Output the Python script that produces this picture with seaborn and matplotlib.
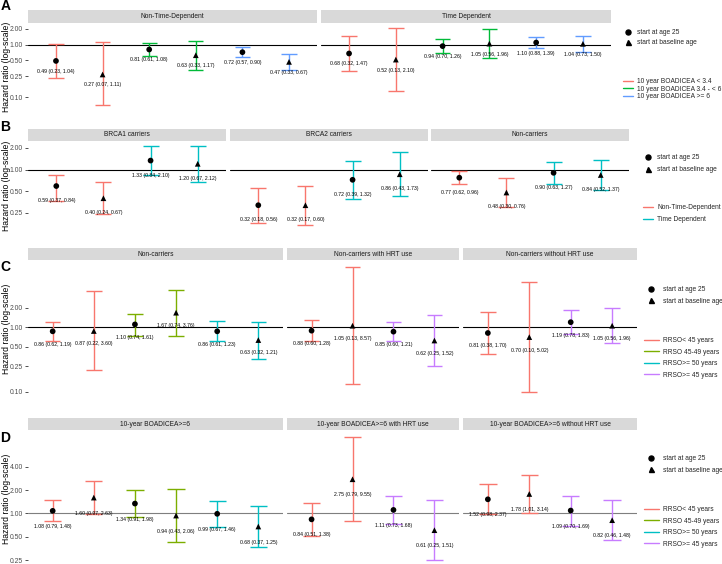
import numpy as np
import pandas as pd
import matplotlib
matplotlib.use('Agg')
import matplotlib.pyplot as plt
from matplotlib.lines import Line2D
import seaborn as sns

sns.set_theme(style='white')
plt.rcParams['font.family'] = ['Liberation Sans', 'DejaVu Sans']

starts = ['start at age 25', 'start at baseline age']

# --- panel A: BOADICEA risk groups
a_facets = ['Non-Time-Dependent'] * 6 + ['Time Dependent'] * 6
a_levels = ['10 year BOADICEA < 3.4', '10 year BOADICEA 3.4 - < 6', '10 year BOADICEA >= 6']
a_groups = [g for g in a_levels for _ in range(2)] * 2
a_hr = [0.49, 0.27, 0.81, 0.63, 0.72, 0.47, 0.68, 0.52, 0.94, 1.05, 1.10, 1.04]
a_lo = [0.23, 0.07, 0.61, 0.33, 0.57, 0.33, 0.32, 0.13, 0.70, 0.56, 0.88, 0.73]
a_hi = [1.04, 1.11, 1.08, 1.17, 0.90, 0.67, 1.47, 2.10, 1.26, 1.96, 1.39, 1.50]
a_colors = ['#F8766D', '#00BA38', '#619CFF']
a_ticks = [0.10, 0.25, 0.50, 1.00, 2.00]

# --- panel B: carrier status
b_facets = ['BRCA1 carriers'] * 4 + ['BRCA2 carriers'] * 4 + ['Non-carriers'] * 4
b_levels = ['Non-Time-Dependent', 'Time Dependent']
b_groups = [g for g in b_levels for _ in range(2)] * 3
b_hr = [0.59, 0.40, 1.33, 1.20, 0.32, 0.32, 0.72, 0.86, 0.77, 0.48, 0.90, 0.84]
b_lo = [0.37, 0.24, 0.84, 0.67, 0.18, 0.17, 0.39, 0.43, 0.62, 0.30, 0.63, 0.52]
b_hi = [0.84, 0.67, 2.10, 2.12, 0.56, 0.60, 1.32, 1.73, 0.96, 0.76, 1.27, 1.37]
b_colors = ['#F8766D', '#00BFC4']
b_ticks = [0.25, 0.50, 1.00, 2.00]

# --- panels C and D: RRSO timing
rrso_levels = ['RRSO< 45 years', 'RRSO 45-49 years', 'RRSO>= 50 years', 'RRSO>= 45 years']
rrso_colors = ['#F8766D', '#7CAE00', '#00BFC4', '#C77CFF']
rrso_groups = ['RRSO< 45 years'] * 2 + ['RRSO 45-49 years'] * 2 + ['RRSO>= 50 years'] * 2 + \
              (['RRSO< 45 years'] * 2 + ['RRSO>= 45 years'] * 2) * 2

c_facets = ['Non-carriers'] * 6 + ['Non-carriers with HRT use'] * 4 + ['Non-carriers without HRT use'] * 4
c_hr = [0.86, 0.87, 1.10, 1.67, 0.86, 0.63, 0.88, 1.05, 0.85, 0.62, 0.81, 0.70, 1.19, 1.05]
c_lo = [0.62, 0.22, 0.74, 0.74, 0.61, 0.32, 0.60, 0.13, 0.60, 0.25, 0.38, 0.10, 0.78, 0.56]
c_hi = [1.19, 3.60, 1.61, 3.76, 1.23, 1.21, 1.28, 8.57, 1.21, 1.52, 1.70, 5.02, 1.83, 1.96]
c_ticks = [0.10, 0.25, 0.50, 1.00, 2.00]

d_facets = ['10-year BOADICEA>=6'] * 6 + ['10-year BOADICEA>=6 with HRT use'] * 4 + \
           ['10-year BOADICEA>=6 without HRT use'] * 4
d_hr = [1.08, 1.60, 1.34, 0.94, 0.99, 0.68, 0.84, 2.75, 1.11, 0.61, 1.52, 1.78, 1.09, 0.82]
d_lo = [0.79, 0.97, 0.91, 0.43, 0.67, 0.37, 0.51, 0.79, 0.73, 0.25, 0.98, 1.01, 0.70, 0.46]
d_hi = [1.48, 2.63, 1.98, 2.06, 1.46, 1.25, 1.38, 9.55, 1.68, 1.51, 2.37, 3.14, 1.69, 1.48]
d_ticks = [0.25, 0.50, 1.00, 2.00, 4.00]


def make_df(facets, groups, hr, lo, hi):
    df = pd.DataFrame({'facet': facets, 'group': groups, 'hr': hr, 'lo': lo, 'hi': hi})
    df['start'] = [starts[i % 2] for i in range(len(df))]
    df['x'] = df.groupby('facet').cumcount() + 1
    df['label'] = [f'{h:.2f} ({l:.2f}, {u:.2f})' for h, l, u in zip(df.hr, df.lo, df.hi)]
    return df


W, H = 722, 564
fig = plt.figure(figsize=(W / 100, H / 100), dpi=100)


def px_axes(x0, y0, x1, y1):
    return fig.add_axes([x0 / W, 1 - y1 / H, (x1 - x0) / W, (y1 - y0) / H])


rows = [
    dict(letter='A', ly=5.5, df=make_df(a_facets, a_groups, a_hr, a_lo, a_hi),
         levels=a_levels, colors=a_colors, ticks=a_ticks, ref='black', cap=0.33,
         panels=[(28, 317), (321, 611)], top=24, bottom=109, strip=(10, 23),
         leg_x=623, leg_y1=29, leg_y2=78, sp1=0.48, sp2=0.1, hl=1.5),
    dict(letter='B', ly=127, df=make_df(b_facets, b_groups, b_hr, b_lo, b_hi),
         levels=b_levels, colors=b_colors, ticks=b_ticks, ref='black', cap=0.34,
         panels=[(28, 226), (230, 428), (431, 629)], top=142, bottom=229, strip=(129, 141),
         leg_x=643, leg_y1=154, leg_y2=204, sp1=0.78, sp2=0.78, hl=1.5),
    dict(letter='C', ly=267, df=make_df(c_facets, rrso_groups, c_hr, c_lo, c_hi),
         levels=rrso_levels, colors=rrso_colors, ticks=c_ticks, ref='black', cap=0.38,
         panels=[(28, 283), (287, 459), (463, 637)], top=260.5, bottom=398, strip=(248, 260),
         leg_x=644, leg_y1=286, leg_y2=337, sp1=0.69, sp2=0.69, hl=2.2),
    dict(letter='D', ly=438.5, df=make_df(d_facets, rrso_groups, d_hr, d_lo, d_hi),
         levels=rrso_levels, colors=rrso_colors, ticks=d_ticks, ref='#7F7F7F', cap=0.42,
         panels=[(28, 283), (287, 459), (463, 637)], top=431, bottom=566.5, strip=(418, 430),
         leg_x=644, leg_y1=455, leg_y2=506, sp1=0.69, sp2=0.69, hl=2.2),
]

for row in rows:
    df = row['df']
    pal = dict(zip(row['levels'], row['colors']))
    lmin, lmax = np.log10(df.lo.min()), np.log10(df.hi.max())
    pad = 0.05 * (lmax - lmin)
    ylim = (10 ** (lmin - pad), 10 ** (lmax + pad))
    facets = list(dict.fromkeys(df.facet))
    for i, (facet, (x0, x1)) in enumerate(zip(facets, row['panels'])):
        sub = df[df.facet == facet]
        ax = px_axes(x0, row['top'], x1, row['bottom'])
        ax.set_yscale('log')
        ax.axhline(1, color=row['ref'], lw=0.8, zorder=1)
        cols = sub.group.map(pal)
        ax.vlines(sub.x, sub.lo, sub.hi, colors=cols, lw=1.0, zorder=2)
        ax.hlines(sub.lo, sub.x - row['cap'] / 2, sub.x + row['cap'] / 2, colors=cols, lw=1.0, zorder=2)
        ax.hlines(sub.hi, sub.x - row['cap'] / 2, sub.x + row['cap'] / 2, colors=cols, lw=1.0, zorder=2)
        sns.scatterplot(data=sub, x='x', y='hr', style='start', style_order=starts,
                        markers={starts[0]: 'o', starts[1]: '^'}, color='black',
                        s=17, linewidth=0, legend=False, ax=ax, zorder=3)
        for _, r in sub.iterrows():
            ax.text(r.x, r.hr * 10 ** -0.2, r.label, ha='center', va='center',
                    fontsize=3.7, color='black', zorder=4)
        ax.set_xlim(0.4, len(sub) + 0.6)
        ax.set_ylim(*ylim)
        ax.set_xticks([])
        ax.set_xlabel('')
        ax.set_ylabel('')
        ax.minorticks_off()
        for s in ax.spines.values():
            s.set_visible(False)
        ax.set_facecolor('white')
        if i == 0:
            ax.set_yticks(row['ticks'])
            ax.set_yticklabels([f'{t:.2f}' for t in row['ticks']])
            ax.tick_params(axis='y', left=True, length=2.5, width=0.6, color='#333333',
                           labelsize=4.9, labelcolor='#4D4D4D', pad=1)
        else:
            ax.set_yticks([])
        # strip
        st = px_axes(x0, row['strip'][0], x1, row['strip'][1])
        st.set_facecolor('#D9D9D9')
        st.set_xticks([])
        st.set_yticks([])
        for s in st.spines.values():
            s.set_visible(False)
        st.text(0.5, 0.5, facet, ha='center', va='center', fontsize=4.8,
                color='#1A1A1A', transform=st.transAxes)

    # y label and panel letter
    ymid = (row['top'] + row['bottom']) / 2
    fig.text(6.5 / W, 1 - ymid / H, 'Hazard ratio (log-scale)', rotation=90,
             ha='center', va='center', fontsize=6.2, color='black')
    fig.text(0.5 / W, 1 - row['ly'] / H, row['letter'], ha='left', va='center',
             fontsize=10, fontweight='bold', color='black')

    # legends
    shape_handles = [Line2D([], [], marker=m, color='black', linestyle='', markersize=3.6)
                     for m in ['o', '^']]
    fig.legend(shape_handles, starts, loc='upper left',
               bbox_to_anchor=(row['leg_x'] / W, 1 - row['leg_y1'] / H),
               frameon=False, fontsize=4.8, labelspacing=row['sp1'],
               handlelength=row['hl'], handletextpad=0.6, borderpad=0, borderaxespad=0)
    color_handles = [Line2D([], [], color=c, lw=1.0) for c in row['colors']]
    fig.legend(color_handles, row['levels'], loc='upper left',
               bbox_to_anchor=(row['leg_x'] / W, 1 - row['leg_y2'] / H),
               frameon=False, fontsize=4.8, labelspacing=row['sp2'],
               handlelength=row['hl'], handletextpad=0.6, borderpad=0, borderaxespad=0)

fig.savefig('out.png', dpi=100, facecolor='white')
